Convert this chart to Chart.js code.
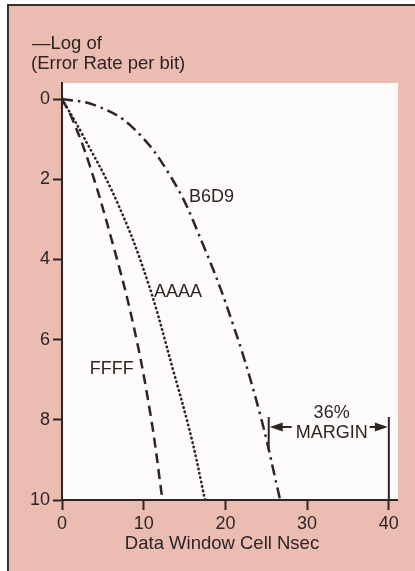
<!DOCTYPE html>
<html>
<head>
<meta charset="utf-8">
<script src="https://cdn.jsdelivr.net/npm/chart.js@4"></script>
<style>
  html, body { margin: 0; padding: 0; background: #ffffff; }
  #wrap { width: 415px; height: 571px; }
</style>
</head>
<body>
<div id="wrap"><canvas id="errorChart" width="415" height="571"></canvas></div>
<script>
// data (x = window ns, y = -log error rate)
const ffffPoints = [
  { x: 0, y: 0 }, { x: 1.2, y: 0.47 }, { x: 3.3, y: 1.6 }, { x: 6.2, y: 3.6 },
  { x: 8.7, y: 5.6 }, { x: 10.8, y: 7.83 }, { x: 12.3, y: 10 },
];
const aaaaPoints = [
  { x: 0, y: 0 }, { x: 2.4, y: 0.85 }, { x: 6.7, y: 2.55 }, { x: 10.4, y: 4.5 },
  { x: 13.6, y: 6.76 }, { x: 15.9, y: 8.5 }, { x: 17.5, y: 10 },
];
const b6d9Points = [
  { x: 0, y: 0 }, { x: 4.0, y: 0.15 }, { x: 8.6, y: 0.7 }, { x: 13.5, y: 2.0 },
  { x: 17.2, y: 3.6 }, { x: 20.9, y: 5.6 }, { x: 24.2, y: 7.83 }, { x: 26.7, y: 10 },
];
const xTicks = [0, 10, 20, 30, 40];
const yTicks = [0, 2, 4, 6, 8, 10];
const yTitle = ["\u2014Log of", "(Error Rate per bit)"];
const xTitle = "Data Window Cell Nsec";

// text labels on the curves, in data units
const curveLabels = [
  { text: "B6D9", x: 18.3, y: 2.44 },
  { text: "AAAA", x: 14.2, y: 4.81 },
  { text: "FFFF", x: 6.1, y: 6.73 },
];
const margin = { from: 25.3, to: 40, top: 7.93, leftBottom: 8.75, arrowY: 8.18, textX: 33.0 };

const ink = "#2e2424";
const pink = "#eabcb2";
const font = "'Liberation Sans', Arial, sans-serif";

const paperPlugin = {
  id: "paper",
  beforeDraw(chart) {
    const { ctx, chartArea } = chart;
    ctx.save();
    ctx.fillStyle = "#ffffff";
    ctx.fillRect(0, 0, chart.width, chart.height);
    ctx.fillStyle = pink;
    ctx.fillRect(8, 5, chart.width - 8, chart.height - 5);
    ctx.strokeStyle = "#3a2e2e";
    ctx.lineWidth = 2;
    ctx.beginPath();
    ctx.moveTo(8, chart.height);
    ctx.lineTo(8, 5);
    ctx.lineTo(chart.width, 5);
    ctx.stroke();
    ctx.fillStyle = "#fdfcfb";
    ctx.fillRect(chartArea.left, chartArea.top, chartArea.right - chartArea.left + 1, chartArea.bottom - chartArea.top);
    ctx.restore();
  },
  afterDraw(chart) {
    const { ctx, scales } = chart;
    const xs = scales.x, ys = scales.y;
    ctx.save();
    ctx.fillStyle = ink;
    ctx.font = "18.5px " + font;
    ctx.textBaseline = "middle";
    ctx.textAlign = "left";
    ctx.fillText(yTitle[0], 32, 44);
    ctx.fillText(yTitle[1], 31, 64);
    ctx.textAlign = "center";
    ctx.fillText(xTitle, 222, 544);

    ctx.font = "18px " + font;
    curveLabels.forEach(l => {
      ctx.fillText(l.text, xs.getPixelForValue(l.x), ys.getPixelForValue(l.y));
    });

    // 36% margin bracket
    const xl = xs.getPixelForValue(margin.from);
    const xr = xs.getPixelForValue(margin.to);
    const xm = xs.getPixelForValue(margin.textX);
    const yt = ys.getPixelForValue(margin.top);
    const ya = ys.getPixelForValue(margin.arrowY);
    ctx.fillText("36%", xm, ya - 14);
    ctx.fillText("MARGIN", xm, ya + 6);
    ctx.strokeStyle = ink;
    ctx.lineWidth = 2;
    ctx.beginPath();
    ctx.moveTo(xl, yt);
    ctx.lineTo(xl, ys.getPixelForValue(margin.leftBottom));
    ctx.moveTo(xr, yt);
    ctx.lineTo(xr, ys.getPixelForValue(10));
    ctx.moveTo(xl + 10, ya);
    ctx.lineTo(xm - 40, ya);
    ctx.moveTo(xm + 38, ya);
    ctx.lineTo(xr - 10, ya);
    ctx.stroke();
    ctx.beginPath();
    ctx.moveTo(xl + 1, ya);
    ctx.lineTo(xl + 14, ya - 4.5);
    ctx.lineTo(xl + 14, ya + 4.5);
    ctx.closePath();
    ctx.moveTo(xr - 1, ya);
    ctx.lineTo(xr - 14, ya - 4.5);
    ctx.lineTo(xr - 14, ya + 4.5);
    ctx.closePath();
    ctx.fill();
    ctx.restore();
  },
};

const curveStyle = {
  borderColor: ink,
  borderWidth: 2.5,
  pointRadius: 0,
  fill: false,
  tension: 0.4,
};

const ctx = document.getElementById("errorChart");
const errorChart = new Chart(ctx, {
  type: "line",
  data: {
    datasets: [
      { ...curveStyle, label: "FFFF", data: ffffPoints, borderDash: [10, 6] },
      { ...curveStyle, label: "AAAA", data: aaaaPoints, borderDash: [0.5, 4], borderCapStyle: "round", borderWidth: 2.6 },
      { ...curveStyle, label: "B6D9", data: b6d9Points, borderDash: [11, 5, 2.5, 5] },
    ],
  },
  options: {
    responsive: false,
    animation: false,
    layout: { padding: { top: 83, right: 18, left: 0, bottom: 0 } },
    scales: {
      x: {
        type: "linear",
        min: 0,
        max: 41,
        afterBuildTicks: (axis) => { axis.ticks = xTicks.map(v => ({ value: v })); },
        afterFit: (axis) => { axis.height = 71; },
        grid: { drawOnChartArea: false, tickLength: 10, tickWidth: 2, tickColor: ink },
        border: { display: true, color: ink, width: 2 },
        ticks: { color: ink, font: { size: 18, family: font }, padding: 3, maxRotation: 0 },
      },
      y: {
        type: "linear",
        reverse: true,
        min: -0.4,
        max: 10,
        afterBuildTicks: (axis) => { axis.ticks = yTicks.map(v => ({ value: v })); },
        afterFit: (axis) => { axis.width = 62; },
        grid: { drawOnChartArea: false, tickLength: 9, tickWidth: 2, tickColor: ink },
        border: { display: true, color: ink, width: 2 },
        ticks: { color: ink, font: { size: 18, family: font }, padding: 3 },
      },
    },
    plugins: {
      legend: { display: false },
      tooltip: { enabled: false },
    },
  },
  plugins: [paperPlugin],
});
</script>
</body>
</html>
